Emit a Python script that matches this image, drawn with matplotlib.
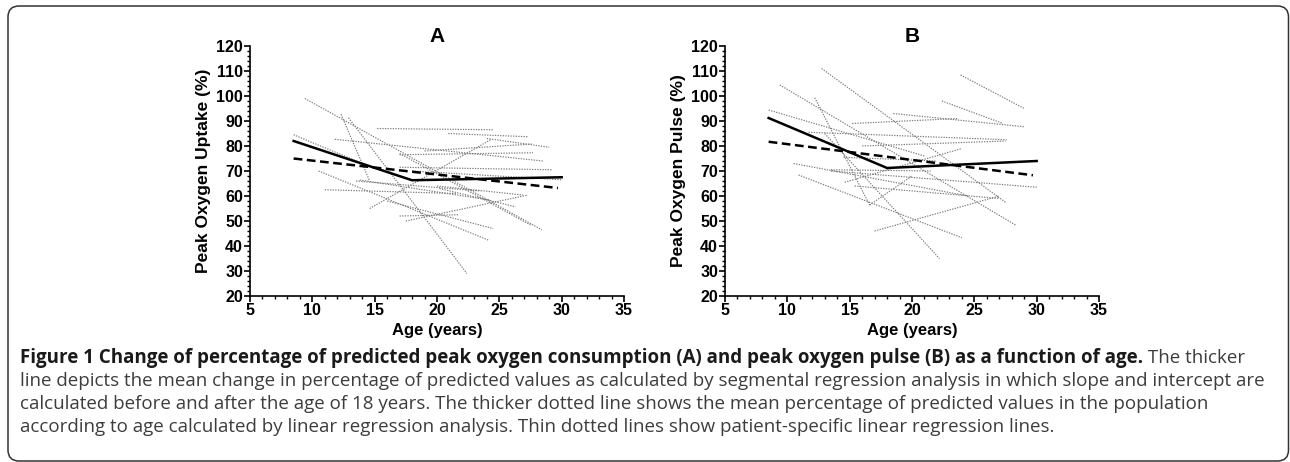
import matplotlib
matplotlib.use("Agg")
import matplotlib.pyplot as plt
from matplotlib.patches import FancyBboxPatch
from matplotlib.ticker import MultipleLocator

# mean curves (segmental regression with knee at 18 y, linear regression)
seg_age = [8.5, 18, 30]
seg_uptake = [82, 66.3, 67.5]
seg_pulse = [91.2, 71.2, 74]
lin_age = [8.5, 29.7]
lin_uptake = [75, 63.2]
lin_pulse = [81.7, 68.3]

# patient specific regression lines: (age start, value start, age end, value end)
pat_uptake = [
    (9.4, 99, 28.4, 46.5), (12.3, 92.7, 14.6, 66), (12.9, 91.3, 22.4, 29),
    (15.2, 87, 24.5, 86.5), (20.9, 85, 27.3, 83.7), (24, 83, 29, 79.5),
    (14.6, 55, 24.3, 82.5), (8.5, 84.5, 14.5, 72), (11.8, 82.7, 28.5, 74),
    (10.5, 70, 24.1, 42.4), (11, 62.5, 21.5, 61), (13.5, 66, 23.5, 62),
    (13.8, 66.4, 24.2, 58.4), (20.2, 63, 26.3, 55.7), (17.5, 50, 27.3, 60.4),
    (17, 77, 27.5, 48.4), (17, 52, 21.7, 52.5), (17, 76.5, 27.7, 77.3),
    (19, 78, 27.6, 80.8), (18, 70, 30, 66.5), (16, 58, 24.5, 47),
    (17, 71.5, 29.2, 70.5), (20, 64, 26.9, 60.4),
]
pat_pulse = [
    (12.75, 111, 27.5, 57.5), (9.4, 104.4, 28.3, 48.4), (12.2, 99.3, 16.6, 56.4),
    (8.5, 94.4, 21, 76), (23.9, 108.4, 29, 95), (22.4, 98, 27.3, 89),
    (15.2, 89, 23.7, 91), (18.5, 93, 29, 87.7), (11.7, 85.5, 27.6, 82.5),
    (16, 80, 27.5, 82), (14.6, 65.5, 24, 79), (13.5, 70, 30, 63.5),
    (15.4, 64, 27, 59), (17, 46, 27, 60), (16.6, 56.4, 20, 68),
    (10.9, 68.4, 24, 43.3), (13, 85, 22.2, 35), (10.5, 73, 24.5, 60),
    (14.5, 75.5, 22, 74), (13.5, 70.5, 21.5, 70),
]

caption_bold = ("Figure 1 Change of percentage of predicted peak oxygen consumption (A) "
                "and peak oxygen pulse (B) as a function of age.")
caption_lines = [
    " The thicker",
    "line depicts the mean change in percentage of predicted values as calculated by segmental "
    "regression analysis in which slope and intercept are",
    "calculated before and after the age of 18 years. The thicker dotted line shows the mean "
    "percentage of predicted values in the population",
    "according to age calculated by linear regression analysis. Thin dotted lines show "
    "patient-specific linear regression lines.",
]

plt.rcParams['font.family'] = ['Liberation Sans', 'DejaVu Sans']

W, H = 1290, 462
fig = plt.figure(figsize=(W / 100, H / 100), dpi=100)

bg = fig.add_axes([0, 0, 1, 1])
bg.set_xlim(0, W)
bg.set_ylim(H, 0)
bg.axis('off')
bg.add_patch(FancyBboxPatch((8, 6), 1280.5, 455, boxstyle='round,pad=0,rounding_size=11',
                            fc='none', ec='#333333', lw=1.1))

axes = []


def draw_panel(left, pats, seg_y, lin_y, ylabel, letter):
    ax = fig.add_axes([left / W, 1 - 296 / H, 374 / W, 250 / H])
    for x0, y0, x1, y1 in pats:
        ax.plot([x0, x1], [y0, y1], color='#7a7a7a', lw=0.85, ls=(0, (1.1, 1.1)))
    ax.plot(seg_age, seg_y, color='black', lw=1.8)
    ax.plot(lin_age, lin_y, color='black', lw=1.8, ls=(0, (3.5, 1.8)))
    ax.set_xlim(5, 35)
    ax.set_ylim(20, 120)
    ax.xaxis.set_major_locator(MultipleLocator(5))
    ax.xaxis.set_minor_locator(MultipleLocator(1))
    ax.yaxis.set_major_locator(MultipleLocator(10))
    ax.yaxis.set_minor_locator(MultipleLocator(2))
    for s in ['top', 'right']:
        ax.spines[s].set_visible(False)
    for s in ['left', 'bottom']:
        ax.spines[s].set_linewidth(1.2)
    ax.tick_params(which='major', direction='out', length=4, width=1.2, labelsize=11.5, pad=1)
    ax.tick_params(which='minor', direction='out', length=2.5, width=1.0)
    ax.set_ylabel(ylabel, fontsize=12.5, fontweight='bold')
    ax.yaxis.set_label_coords(-0.104, 0.5)
    ax.set_xlabel('Age (years)', fontsize=12, fontweight='bold')
    ax.xaxis.set_label_coords(0.5, -0.108)
    ax.text(0.5, 1.016, letter, transform=ax.transAxes, ha='center', va='baseline',
            fontsize=15, fontweight='bold')
    axes.append(ax)
    return ax


draw_panel(250, pat_uptake, seg_uptake, lin_uptake, 'Peak Oxygen Uptake (%)', 'A')
draw_panel(725, pat_pulse, seg_pulse, lin_pulse, 'Peak Oxygen Pulse (%)', 'B')

fig.canvas.draw()
for ax in axes:
    for lbl in ax.get_xticklabels() + ax.get_yticklabels():
        lbl.set_fontweight('bold')

# caption
cap_font = ['Open Sans', 'DejaVu Sans']
size = 13.5
x0, base, step = 20, 363, 23
t_bold = bg.text(x0, base, caption_bold, fontsize=size, fontweight='bold', family=cap_font,
                 color='#1a1a1a', va='baseline', ha='left')
fig.canvas.draw()
r = fig.canvas.get_renderer()
bb = t_bold.get_window_extent(r)
bg.text(bb.x1, base, caption_lines[0], fontsize=size, fontweight='normal',
        family=cap_font, color='#3d3d3d', va='baseline', ha='left')
for i, line in enumerate(caption_lines[1:], start=1):
    bg.text(x0, base + i * step, line, fontsize=size, fontweight='normal', family=cap_font,
            color='#3d3d3d', va='baseline', ha='left')

fig.savefig('out.png', dpi=100)
